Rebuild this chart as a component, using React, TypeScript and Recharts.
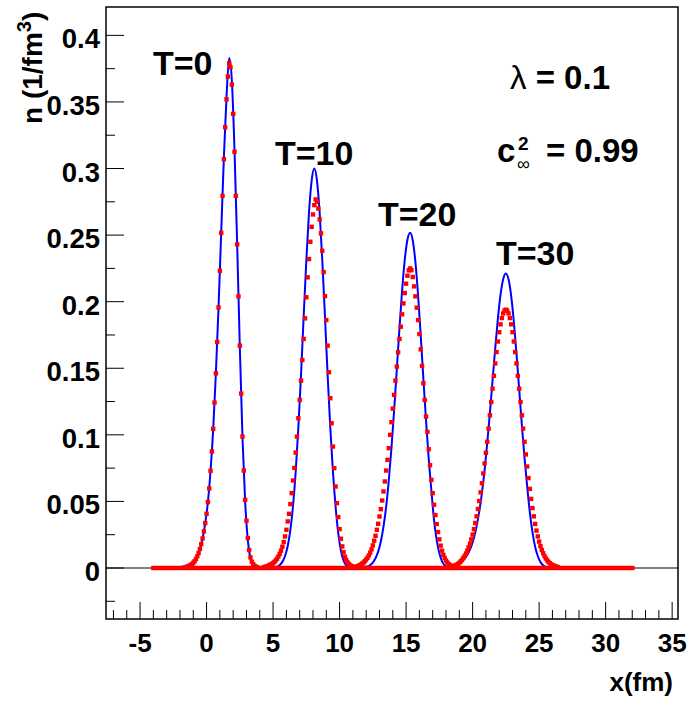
import React from 'react';
import { ComposedChart, Line, Scatter, XAxis, YAxis, ReferenceLine } from 'recharts';

// red points: one value every 0.1 fm, blue curve: one value every 0.2 fm
const RED_STEP = 0.1;
const BLUE_STEP = 0.2;
const X_RANGE = [-4, 32];

const redT0Start = -1.6;
const redT0 = [
  0.0006, 0.0008, 0.0012, 0.0016, 0.0022, 0.0029, 0.0039, 0.0051, 0.0067, 0.0087, 0.0112, 0.0143, 0.018, 0.0222,
  0.0275, 0.0337, 0.0407, 0.0495, 0.0597, 0.073, 0.0875, 0.1045, 0.1242, 0.1462, 0.1697, 0.1957, 0.2232, 0.2517,
  0.2795, 0.307, 0.331, 0.352, 0.369, 0.379, 0.376, 0.363, 0.341, 0.3125, 0.2795, 0.243, 0.204, 0.167, 0.131,
  0.0987, 0.0732, 0.0512, 0.0355, 0.0225, 0.0135, 0.008, 0.0048, 0.0029, 0.0017, 0.001, 0.0006,
];

const redT10Start = 4.3;
const redT10 = [
  0.0006, 0.0008, 0.0011, 0.0015, 0.0019, 0.0024, 0.003, 0.0037, 0.0046, 0.0057, 0.007, 0.0086, 0.0106, 0.013,
  0.016, 0.0195, 0.0237, 0.0287, 0.035, 0.0407, 0.048, 0.0562, 0.0657, 0.0752, 0.0867, 0.0987, 0.1125, 0.1262,
  0.1407, 0.1562, 0.172, 0.1875, 0.2033, 0.2183, 0.232, 0.245, 0.2562, 0.2655, 0.2725, 0.2768, 0.275, 0.27,
  0.2618, 0.2513, 0.2382, 0.2222, 0.2042, 0.1862, 0.167, 0.147, 0.1275, 0.1087, 0.0912, 0.075, 0.0612, 0.0487,
  0.0382, 0.0292, 0.022, 0.0162, 0.0118, 0.0085, 0.006, 0.0042, 0.0029, 0.002, 0.0014, 0.001, 0.0007,
];

const redT20Start = 11.1;
const redT20 = [
  0.0006, 0.0008, 0.0011, 0.0015, 0.002, 0.0026, 0.0033, 0.0041, 0.0051, 0.0063, 0.0077, 0.0094, 0.0115, 0.014,
  0.017, 0.0205, 0.0242, 0.0287, 0.0332, 0.0387, 0.0442, 0.0507, 0.0575, 0.065, 0.0732, 0.0812, 0.09, 0.1,
  0.1095, 0.1197, 0.13, 0.1407, 0.1512, 0.162, 0.172, 0.1812, 0.1905, 0.1987, 0.2065, 0.2135, 0.2195, 0.2235,
  0.225, 0.2237, 0.2185, 0.2115, 0.204, 0.1955, 0.1862, 0.1757, 0.1642, 0.1517, 0.1387, 0.1262, 0.1137, 0.1022,
  0.0892, 0.0772, 0.0662, 0.0562, 0.0475, 0.0398, 0.033, 0.027, 0.0215, 0.0168, 0.013, 0.0099, 0.0075, 0.0056,
  0.0041, 0.003, 0.0021, 0.0015, 0.001, 0.0007,
];

const redT30Start = 18.3;
const redT30 = [
  0.0006, 0.0008, 0.0011, 0.0014, 0.0019, 0.0024, 0.0031, 0.0039, 0.0049, 0.006, 0.0074, 0.009, 0.0109, 0.013,
  0.0155, 0.0183, 0.0215, 0.0251, 0.0292, 0.0338, 0.0388, 0.0443, 0.0503, 0.0568, 0.0637, 0.071, 0.0785, 0.0865,
  0.0948, 0.1047, 0.1147, 0.1247, 0.1347, 0.1443, 0.1536, 0.1622, 0.1701, 0.1771, 0.183, 0.1877, 0.1912, 0.1933,
  0.194, 0.1933, 0.1912, 0.1877, 0.183, 0.1771, 0.1701, 0.1622, 0.1536, 0.1443, 0.1347, 0.1247, 0.1147, 0.1047,
  0.0948, 0.0853, 0.0762, 0.0675, 0.0594, 0.0519, 0.045, 0.0388, 0.0331, 0.0281, 0.0237, 0.0198, 0.0164, 0.0135,
  0.0111, 0.009, 0.0072, 0.0058, 0.0046, 0.0036, 0.0028, 0.0022, 0.0017, 0.0013, 0.001, 0.0007,
];

const blueT0Start = -1.3;
const blueT0 = [
  0.0016, 0.0029, 0.0051, 0.0087, 0.0143, 0.0222, 0.0337, 0.0495, 0.073, 0.1045, 0.1462, 0.1957, 0.252, 0.308,
  0.354, 0.383, 0.366, 0.314, 0.243, 0.166, 0.098, 0.05, 0.021, 0.007, 0.002, 0.0005,
];

const blueT10Start = 5.3;
const blueT10 = [
  0.001, 0.0022, 0.0046, 0.009, 0.0165, 0.0286, 0.0468, 0.0724, 0.1055, 0.145, 0.189, 0.231, 0.267, 0.291, 0.3,
  0.291, 0.267, 0.231, 0.189, 0.145, 0.1055, 0.0724, 0.046, 0.026, 0.013, 0.0055, 0.002, 0.0006,
];

const blueT20Start = 12.1;
const blueT20 = [
  0.0012, 0.0023, 0.0041, 0.0073, 0.0123, 0.0199, 0.031, 0.0461, 0.0659, 0.0901, 0.1184, 0.149, 0.18, 0.2084,
  0.2315, 0.2465, 0.2517, 0.246, 0.2297, 0.2048, 0.1745, 0.142, 0.1104, 0.0821, 0.0582, 0.036, 0.021, 0.011,
  0.005, 0.002, 0.0007,
];

const blueT30Start = 18.3;
const blueT30 = [
  0.0012, 0.0016, 0.0023, 0.0031, 0.0043, 0.006, 0.0083, 0.0117, 0.0163, 0.0227, 0.0314, 0.0425, 0.0563, 0.0734,
  0.0938, 0.1165, 0.1408, 0.165, 0.1873, 0.2053, 0.2171, 0.2212, 0.2168, 0.2042, 0.1848, 0.1606, 0.1342, 0.1077,
  0.083, 0.0615, 0.042, 0.027, 0.016, 0.009, 0.0045, 0.002, 0.0008, 0.0003, 0,
];

const xTicks = [
  -7, -6, -5, -4, -3, -2, -1, 0, 1, 2, 3, 4, 5, 6, 7, 8, 9, 10, 11, 12, 13, 14, 15, 16, 17, 18, 19, 20, 21, 22,
  23, 24, 25, 26, 27, 28, 29, 30, 31, 32, 33, 34, 35,
];
const yTicks = [
  -0.025, 0, 0.025, 0.05, 0.075, 0.1, 0.125, 0.15, 0.175, 0.2, 0.225, 0.25, 0.275, 0.3, 0.325, 0.35, 0.375, 0.4,
];

const toPoints = (x0: number, step: number, vals: number[]) =>
  vals.map((y, i) => ({ x: Math.round((x0 + i * step) * 1000) / 1000, y }));

const blueData = [
  { x: X_RANGE[0], y: 0 },
  ...toPoints(blueT0Start, BLUE_STEP, blueT0),
  ...toPoints(blueT10Start, BLUE_STEP, blueT10),
  ...toPoints(blueT20Start, BLUE_STEP, blueT20),
  ...toPoints(blueT30Start, BLUE_STEP, blueT30),
  { x: X_RANGE[1], y: 0 },
];

const redSets = [
  toPoints(redT0Start, RED_STEP, redT0),
  toPoints(redT10Start, RED_STEP, redT10),
  toPoints(redT20Start, RED_STEP, redT20),
  toPoints(redT30Start, RED_STEP, redT30),
];

const FONT = '"Liberation Sans", Arial, Helvetica, sans-serif';
const RED = '#ff0000';
const BLUE = '#0000ff';

const Square = (p: any) => (
  <rect x={p.cx - 2.2} y={p.cy - 2.2} width={4.4} height={4.4} fill={RED} />
);

const renderXTick = (props: any) => {
  const { x, y, payload } = props;
  const v = payload.value;
  const major = v % 5 === 0;
  return (
    <g>
      <line x1={x} x2={x} y1={y} y2={y - (major ? 17 : 9)} stroke="#000" strokeWidth={1} />
      {major && (
        <text x={x} y={y + 33} textAnchor="middle" fontSize={26} fontWeight="bold" fontFamily={FONT} fill="#000">
          {String(v)}
        </text>
      )}
    </g>
  );
};

const renderYTick = (props: any) => {
  const { x, y, payload } = props;
  const v = payload.value;
  const major = Math.abs(v * 20 - Math.round(v * 20)) < 1e-6;
  return (
    <g>
      <line x1={x} x2={x + (major ? 18 : 9)} y1={y} y2={y} stroke="#000" strokeWidth={1} />
      {major && (
        <text x={x - 6} y={y + 13} textAnchor="end" fontSize={27.5} fontWeight="bold" fontFamily={FONT} fill="#000">
          {String(Math.round(v * 100) / 100)}
        </text>
      )}
    </g>
  );
};

const App: React.FC = () => {
  return (
    <div style={{ position: 'absolute', left: 0, top: 0, width: 689, height: 702, background: '#fff' }}>
      <ComposedChart width={689} height={702} margin={{ top: 7, right: 11, bottom: 0, left: 0 }}>
        <XAxis
          type="number"
          dataKey="x"
          domain={[-7.56, 35.44]}
          allowDataOverflow
          ticks={xTicks}
          interval={0}
          height={83}
          tickSize={0}
          tickMargin={0}
          axisLine={false}
          tickLine={false}
          tick={renderXTick}
        />
        <YAxis
          type="number"
          dataKey="y"
          domain={[-0.0383, 0.4213]}
          allowDataOverflow
          ticks={yTicks}
          interval={0}
          width={106}
          tickSize={0}
          tickMargin={0}
          axisLine={false}
          tickLine={false}
          tick={renderYTick}
        />
        <ReferenceLine y={0} stroke="#000" strokeWidth={1} />
        <Line
          data={blueData}
          dataKey="y"
          type="monotone"
          stroke={BLUE}
          strokeWidth={2}
          dot={false}
          isAnimationActive={false}
        />
        <ReferenceLine
          segment={[{ x: X_RANGE[0], y: 0 }, { x: X_RANGE[1], y: 0 }]}
          stroke={RED}
          strokeWidth={4.6}
          strokeLinecap="square"
        />
        {redSets.map((d, i) => (
          <Scatter key={i} data={d} dataKey="y" fill={RED} shape={Square} isAnimationActive={false} />
        ))}
      </ComposedChart>

      <svg
        width={689}
        height={702}
        style={{ position: 'absolute', left: 0, top: 0, pointerEvents: 'none' }}
        fontFamily={FONT}
        fontWeight="bold"
        fill="#000"
      >
        <rect x={106} y={7} width={572} height={612} fill="none" stroke="#000" strokeWidth={1.5} />

        <text x={153} y={75} fontSize={34}>T=0</text>
        <text x={275} y={165} fontSize={34}>T=10</text>
        <text x={378} y={226} fontSize={34}>T=20</text>
        <text x={496} y={265} fontSize={34}>T=30</text>

        <text x={510} y={89} fontSize={33}>
          <tspan fontWeight="normal">λ</tspan> = 0.1
        </text>
        <text x={497} y={162} fontSize={33}>
          c
          <tspan x={518} y={150} fontSize={19}>2</tspan>
          <tspan x={517} y={170} fontSize={18} fontWeight="normal">∞</tspan>
          <tspan x={546} y={162}>= 0.99</tspan>
        </text>

        <text x={673} y={691} fontSize={26} textAnchor="end">x(fm)</text>

        <text transform="translate(42,124) rotate(-90)" fontSize={28}>
          n (1/fm
          <tspan dy={-11} fontSize={20}>3</tspan>
          <tspan dy={11}>)</tspan>
        </text>
      </svg>
    </div>
  );
};

export default App;
